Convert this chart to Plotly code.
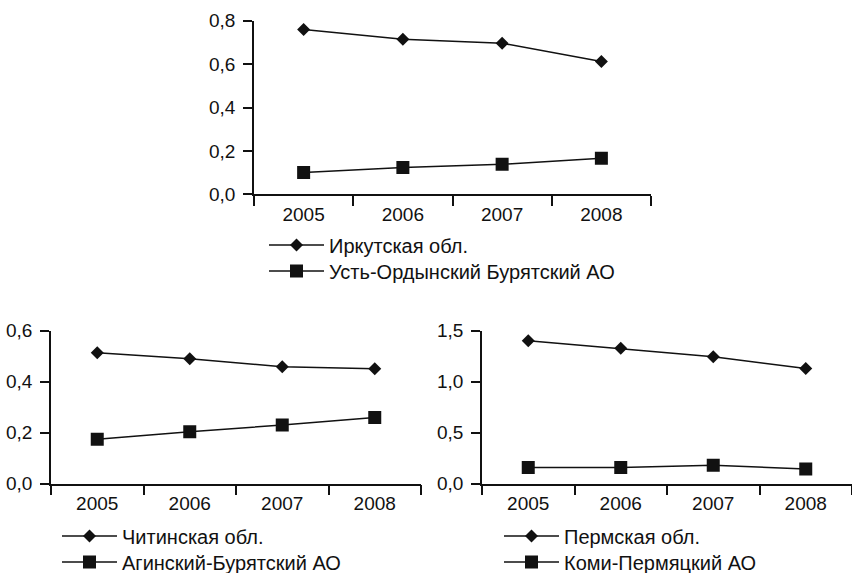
import plotly.graph_objects as go

years = ["2005", "2006", "2007", "2008"]

irkutsk = [0.760, 0.714, 0.696, 0.612]
ust_orda = [0.101, 0.123, 0.138, 0.166]

chita = [0.514, 0.490, 0.459, 0.451]
aginsk = [0.174, 0.204, 0.230, 0.260]

perm = [1.402, 1.327, 1.245, 1.130]
komi_perm = [0.160, 0.160, 0.180, 0.144]

names_top = ["Иркутская обл.", "Усть-Ордынский Бурятский АО"]
names_bl = ["Читинская обл.", "Агинский-Бурятский АО"]
names_br = ["Пермская обл.", "Коми-Пермяцкий АО"]

FONT = "Liberation Sans, Arial, sans-serif"
INK = "#111111"
FS = 19
FS_LEG = 20

fig = go.Figure()

def add_pair(vals_a, vals_b, names, xa, ya, leg_a, leg_b):
    fig.add_trace(go.Scatter(
        x=years, y=vals_a, name=names[0], mode="lines+markers",
        line=dict(color=INK, width=1.5),
        marker=dict(symbol="diamond", size=10, color=INK),
        xaxis=xa, yaxis=ya, legend=leg_a))
    fig.add_trace(go.Scatter(
        x=years, y=vals_b, name=names[1], mode="lines+markers",
        line=dict(color=INK, width=1.5),
        marker=dict(symbol="square", size=13, color=INK),
        xaxis=xa, yaxis=ya, legend=leg_b))

add_pair(irkutsk, ust_orda, names_top, "x", "y", "legend", "legend2")
add_pair(chita, aginsk, names_bl, "x2", "y2", "legend3", "legend4")
add_pair(perm, komi_perm, names_br, "x3", "y3", "legend5", "legend6")

W, H = 852, 573

def xd(a, b):
    return [a / W, min(b / W, 1.0)]

def yd(top, bottom):
    return [1 - bottom / H, 1 - top / H]

xcommon = dict(type="category", showline=True, linecolor=INK, linewidth=1.5,
               range=[-0.5, 3.5],
               ticks="outside", tickson="boundaries", ticklen=10, tickwidth=1.5,
               tickcolor=INK, showgrid=False, zeroline=False,
               tickfont=dict(family=FONT, size=FS, color=INK),
               ticklabelstandoff=2)
ycommon = dict(showline=True, linecolor=INK, linewidth=1.5,
               ticks="outside", ticklen=9, tickwidth=1.5, tickcolor=INK,
               showgrid=False, zeroline=False, tickformat=".1f",
               tickfont=dict(family=FONT, size=FS, color=INK),
               ticklabelstandoff=4)

def leg(xtext, ycenter):
    return dict(font=dict(family=FONT, size=FS_LEG, color=INK),
                bgcolor="rgba(0,0,0,0)", xanchor="left", yanchor="middle",
                itemwidth=55, orientation="v",
                x=(xtext - 65) / W, y=1 - ycenter / H)

fig.update_layout(
    width=W, height=H,
    margin=dict(l=0, r=0, t=0, b=0, autoexpand=False),
    paper_bgcolor="white", plot_bgcolor="white",
    separators=", ",
    showlegend=True,
    xaxis=dict(domain=xd(254, 651), anchor="y", **xcommon),
    yaxis=dict(domain=yd(20.7, 194.3), anchor="x", range=[0, 0.8], dtick=0.2, **ycommon),
    xaxis2=dict(domain=xd(51, 421), anchor="y2", **xcommon),
    yaxis2=dict(domain=yd(330.7, 483.7), anchor="x2", range=[0, 0.6], dtick=0.2, **ycommon),
    xaxis3=dict(domain=xd(482, 854), anchor="y3", **xcommon),
    yaxis3=dict(domain=yd(330.7, 483.7), anchor="x3", range=[0, 1.5], dtick=0.5, **ycommon),
    legend=leg(329, 245),
    legend2=leg(329, 271),
    legend3=leg(122, 536),
    legend4=leg(122, 562),
    legend5=leg(564, 536),
    legend6=leg(564, 562),
)

fig.write_html(
    "out.html",
    config={"displayModeBar": False},
    post_script="document.body.style.margin='0';document.body.style.overflow='hidden';",
)
